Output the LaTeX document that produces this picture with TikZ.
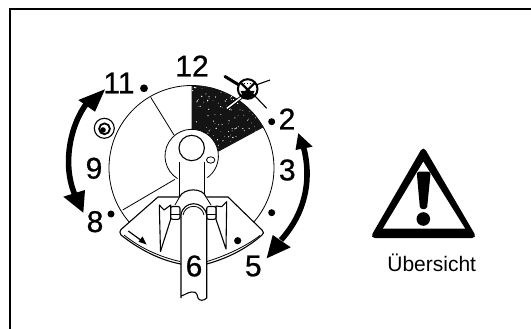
\documentclass[tikz,border=0pt]{standalone}
\usepackage{fontspec}
\setmainfont{Liberation Sans}
\newfontfamily\dialfont[FakeBold=0.7]{Liberation Sans}
\begin{document}
\begin{tikzpicture}[x=1pt,y=1pt,yscale=-1,
  thinline/.style={draw=black,line width=0.8pt},
  midline/.style={draw=black,line width=1.1pt},
  dialnum/.style={font=\dialfont\fontsize{30}{30}\selectfont,inner sep=0pt,text=black},
  blackdot/.style={fill=black,draw=none},
  bigarrow/.style={draw=black,line width=5.6pt},
  framerule/.style={draw=black,line width=2pt}]
\useasboundingbox (0,0) rectangle (531,329);
% frame
\draw[framerule] (531,9) -- (10,9) -- (10,329);
% dial
\coordinate (dialc) at (191.5,168);
\coordinate (hubc) at (191.7,156);
\draw[thinline] (dialc) ++(41:82.5) arc[start angle=41,end angle=-221,radius=82.5];
% dark sector
\begin{scope}
\clip (191.7,129.3) -- (191.5,85.5) arc[start angle=-90,end angle=-29.5,radius=82.5] -- (218.3,151.7) arc[start angle=-9,end angle=-90,radius=26.7] -- cycle;
\fill[black!92] (185,80) rectangle (270,160);
\pgfmathsetseed{4711}
\foreach \i in {1,...,170}{
  \pgfmathsetmacro{\px}{190+80*rnd}
  \pgfmathsetmacro{\py}{84+70*rnd}
  \pgfmathsetmacro{\pr}{0.25+0.45*rnd}
  \fill[white] (\px,\py) circle[radius=\pr];
}
\end{scope}
\draw[thinline] (150.7,97.3) -- (174,135);
\draw[thinline] (122.7,210) -- (175,179.3);
% hub
\draw[thinline] (hubc) ++(122:26.7) arc[start angle=122,end angle=414,radius=26.7];
\draw[midline,fill=white] (191.7,148) circle[radius=12.7];
\draw[thinline,fill=white] (210.7,160) ellipse[x radius=4.2,y radius=3.2];
\draw[midline] (179.3,161.7) -- (179.3,198);
\draw[midline] (204.3,161.7) -- (204.3,198);
% plate
\draw[midline,fill=white,line join=round] (158,197) -- (228,197) -- (262,230) .. controls (264,232) and (264,234) .. (262,235) .. controls (245,250) and (225,259) .. (206.7,264) -- (180.7,264) .. controls (160,260) and (140,250) .. (121,235) .. controls (119.5,233) and (119.5,231) .. (121,229.5) -- cycle;
\draw[thinline] (124,235) .. controls (140,248) and (160,257) .. (180,261.5);
\draw[thinline] (207,261.5) .. controls (225,256) and (245,247) .. (260,235.5);
% fins
\draw[midline,fill=white,line join=round] (159.3,205) -- (164,210) -- (170.7,205) -- (170.7,219.3) -- (160.5,251.5) -- cycle;
\draw[midline,fill=white,line join=round] (226.7,201.7) -- (221.7,206.7) -- (216,206) -- (216,219.3) -- (226,249) -- cycle;
% arch
\fill[white] (178,199) .. controls (183,188) and (203,188) .. (208,199) -- (212,207) -- (174,207) -- cycle;
\draw[midline] (179.5,197) .. controls (184,187.5) and (203,187.5) .. (206,197);
\draw[thinline] (206,197) -- (211,205);
\draw[thinline] (179.5,197) -- (175,205);
% clamp blocks
\draw[midline,fill=white,rounded corners=2pt] (170.7,206.5) rectangle (180,219.3);
\draw[midline,fill=white,rounded corners=2pt] (206.7,206.5) rectangle (216,219.3);
\draw[thinline] (171,214) -- (180,214);
\draw[thinline] (207,214) -- (216,214);
% tube
\draw[midline,fill=white] (181,298) -- (181,215) .. controls (183,200) and (204,200) .. (206.7,215) -- (206.7,298)
  .. controls (204,301) and (199,301) .. (198,298) .. controls (197,292) and (194,291) .. (192,292) .. controls (188,292) and (185,295) .. (181,296) -- cycle;
\draw[thinline] (183,215) .. controls (185,203.5) and (202,203.5) .. (204,215);
% small arrow on plate
\draw[black,line width=1.2pt] (128.3,231) -- (142,241);
\fill[black] (146.5,244.5) -- (138.5,241.8) -- (142.5,236.5) -- cycle;
% screw
\draw[midline,fill=white] (104.3,128.3) circle[radius=10];
\draw[line width=1.8pt] (104.5,128.8) circle[radius=5.4];
\fill[black] (103,130) circle[radius=2.8];
% cross symbol
\draw[line width=3pt,line cap=round] (225,76.5) -- (239,85);
\draw[midline] (256,85) -- (270,80);
\draw[midline] (254,95) -- (266.7,108.3);
\draw[line width=3.4pt,black] (227,108.3) -- (243,96);
\draw[line width=1.5pt,white] (227,108.3) -- (243,96);
\draw[line width=2pt,fill=white] (247.7,89) circle[radius=9.8];
\fill[black] (240.5,91) -- (254.5,91) -- (251,98) -- (244,98) -- cycle;
\draw[line width=2.2pt] (241,83) -- (254.6,96.6);
\draw[line width=2.2pt] (254.6,83) -- (241,96.6);
\draw[line width=1pt,dotted] (243.5,84) -- (252,84);
% dots
\fill[blackdot] (144,88.3) circle[radius=3.9];
\fill[blackdot] (271.7,121.7) circle[radius=3.5];
\fill[blackdot] (111,214) circle[radius=3.5];
\fill[blackdot] (271.7,212.7) circle[radius=3.5];
\fill[blackdot] (237.7,240.7) circle[radius=3.6];
% curved arrows
\draw[bigarrow] (87,103) .. controls (70,125) and (62,165) .. (75,195);
\fill[black] (105,89.3) -- (78.3,100) -- (95,111.7) -- cycle;
\fill[black] (83.3,212.7) -- (63.3,196.7) -- (85,190) -- cycle;
\draw[bigarrow] (303.5,147) .. controls (311,175) and (308,210) .. (281,240);
\fill[black] (298.3,133.3) -- (295.5,150) -- (312.7,146.7) -- cycle;
\fill[black] (266.7,258.3) -- (272.7,235) -- (290.7,247.3) -- cycle;
% numbers
\node[dialnum] (n12) at (192,66) {12};
\node[dialnum] (n11) at (119,83) {11};
\node[dialnum] (n2) at (287,119) {2};
\node[dialnum] (n3) at (287.3,170) {3};
\node[dialnum] (n9) at (94,168.3) {9};
\node[dialnum] (n8) at (95,221.7) {8};
\node[dialnum] (n5) at (253.3,266) {5};
\node[dialnum] (n6) at (194,266) {6};
% warning triangle
\fill[black,rounded corners=5pt] (423.3,146) -- (370,238) -- (477,238) -- cycle;
\fill[white] (423.3,161.7) -- (383,228.5) -- (465,228.5) -- cycle;
\fill[black,rounded corners=2.5pt] (416.7,171.7) -- (430.7,171.7) -- (427,209) -- (420,209) -- cycle;
\fill[black] (423.3,219) circle[radius=6.8];
\node[font=\fontsize{21}{21}\selectfont,inner sep=0pt,anchor=base] (ubers) at (431.7,271.7) {Übersicht};
\end{tikzpicture}
\end{document}
